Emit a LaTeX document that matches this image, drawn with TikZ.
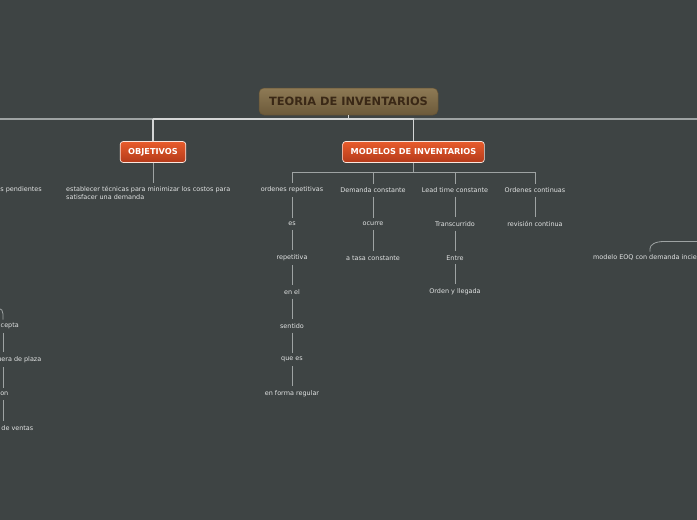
\documentclass[tikz,border=0pt]{standalone}
\usepackage{fontspec}
\setmainfont{DejaVu Sans}
\usetikzlibrary{calc}
\definecolor{bgc}{HTML}{3E4444}
\definecolor{txtc}{HTML}{E2E4E4}
\definecolor{linec}{HTML}{9EA3A3}
\definecolor{barc}{HTML}{D4D6D6}
\definecolor{orgtop}{HTML}{E85C2C}
\definecolor{orgbot}{HTML}{B43A1A}
\definecolor{tittop}{HTML}{8E7A55}
\definecolor{titbot}{HTML}{6C5A3A}
\definecolor{tittxt}{HTML}{3A2816}
\begin{document}
\begin{tikzpicture}[x=1pt,y=-1pt,
  lbl/.style={font=\fontsize{6.45}{8}\selectfont, text=txtc, inner sep=0pt, yshift=-0.8pt},
  conn/.style={draw=linec, line width=0.8pt},
  mainconn/.style={draw=barc, line width=1.2pt},
  topic/.style={draw=white!85!orgtop, line width=0.7pt, rounded corners=3pt,
    top color=orgtop, bottom color=orgbot, text=white,
    font=\bfseries\fontsize{8.2}{9}\selectfont, inner xsep=8pt, minimum height=21pt},
  central/.style={draw=titbot!90!black, line width=0.5pt, rounded corners=5pt,
    top color=tittop, bottom color=titbot, text=tittxt,
    font=\bfseries\fontsize{11.4}{13}\selectfont, minimum width=179pt, minimum height=27pt}
]
\fill[bgc] (0,0) rectangle (697,520);
\useasboundingbox (0,0) rectangle (697,520);

% main bar
\coordinate (barL) at (0,119);
\coordinate (barR) at (697,119);
\node[central] (title) at (348.5,101.5) {TEORIA DE INVENTARIOS};
\node[topic] (obj) at (153,152) {OBJETIVOS};
\node[topic] (mod) at (413.5,152) {MODELOS DE INVENTARIOS};
\draw[conn, line width=1.2pt] (barL) -- (barR);
\draw[mainconn] (obj.north |- barL) -- (mod.north |- barL);
\draw[mainconn] (title.south) -- (title.south |- barL);
\draw[mainconn] (obj.north) -- (obj.north |- barL);
\draw[mainconn] (mod.north) -- (mod.north |- barL);

% objetivos
\node[lbl, anchor=north west, align=left] (est) at (66,185.3)
  {establecer técnicas para minimizar los costos para\\satisfacer una demanda};
\draw[conn] (obj.south) -- (obj.south |- {$(est.north)+(0,-3)$});
\node[lbl, anchor=east] (pen) at (42,189) {s pendientes};

% modelos children
\coordinate (mb) at (413.5,172);
\draw[conn] (mod.south) -- (mb);
\node[lbl] (ord) at (292,189) {ordenes repetitivas};
\node[lbl] (dem) at (373,189) {Demanda constante};
\node[lbl] (lea) at (455,189) {Lead time constante};
\node[lbl] (orc) at (535,189) {Ordenes continuas};
\foreach \n in {ord,dem,lea,orc}
  \draw[conn] ($(\n.north)+(0,-3.5)$) |- (mb);

\node[lbl] (es) at (292,223) {es};
\node[lbl] (rep) at (292,257) {repetitiva};
\node[lbl] (enel) at (292,291) {en el};
\node[lbl] (sen) at (292,325) {sentido};
\node[lbl] (quees) at (292,359) {que es};
\node[lbl] (enf) at (292,393) {en forma regular};
\node[lbl] (ocu) at (373,223) {ocurre};
\node[lbl] (ata) at (373,257) {a tasa constante};
\node[lbl] (tra) at (455,223) {Transcurrido};
\node[lbl] (ent) at (455,257) {Entre};
\node[lbl] (oyl) at (455,291) {Orden y llegada};
\node[lbl] (rev) at (535,223) {revisión continua};
\foreach \a/\b in {ord/es,es/rep,rep/enel,enel/sen,sen/quees,quees/enf,
                   dem/ocu,ocu/ata,lea/tra,tra/ent,ent/oyl,orc/rev}
  \draw[conn] ($(\a.south)+(0,4)$) -- ($(\b.north)+(0,-4)$);

% right branch
\node[lbl, anchor=west] (eoq) at (593,257) {modelo EOQ con demanda incierta};
\coordinate (eoqc) at (650,257);
\draw[conn] ($(eoqc |- eoq.north)+(0,-3)$) -- ++(0,-3) .. controls +(0,-4) and (655,241.5) .. (664,241.5) -- (barR |- 0,241.5);

% left branch
\coordinate (lx) at (3,0);
\node[lbl, anchor=east] (cep) at (19,325) {cepta};
\node[lbl, anchor=east] (uer) at (41.5,359) {uera de plaza};
\node[lbl, anchor=east] (on) at (8.5,393) {on};
\node[lbl, anchor=east] (dev) at (33.5,427) {de ventas};
\draw[conn] (-3,308.5) .. controls (2,308.5) and (3,311) .. (3,314) -- ($(cep.north -| lx)+(0,-3)$);
\foreach \a/\b in {cep/uer,uer/on,on/dev}
  \draw[conn] ($(\a.south -| lx)+(0,4)$) -- ($(\b.north -| lx)+(0,-4)$);
\end{tikzpicture}
\end{document}
